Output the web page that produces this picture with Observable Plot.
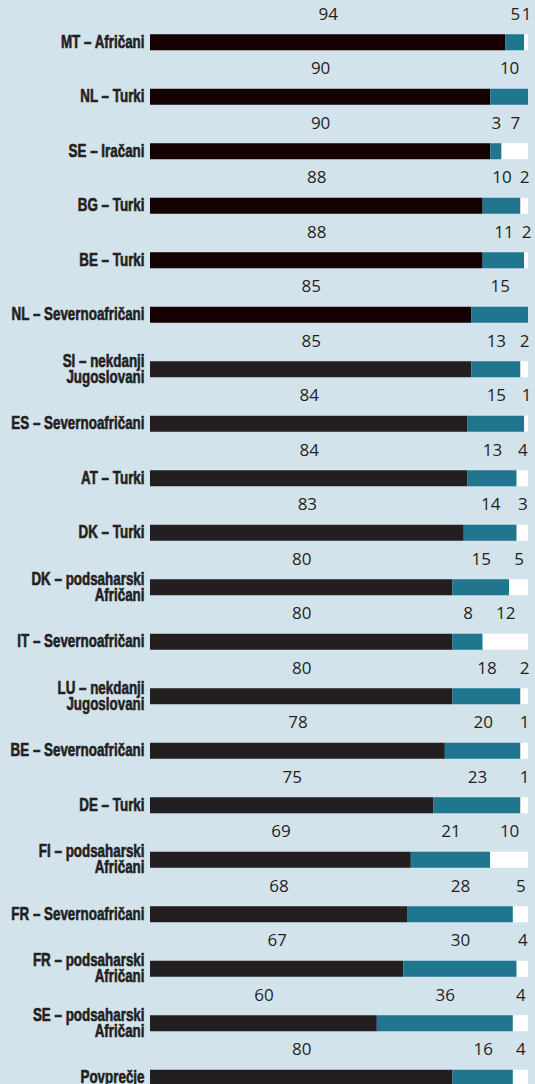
<!DOCTYPE html>
<html>
<head>
<meta charset="utf-8">
<script src="https://cdn.jsdelivr.net/npm/d3@7"></script>
<script src="https://cdn.jsdelivr.net/npm/@observablehq/plot@0.6"></script>
<style>
  html, body { margin: 0; padding: 0; background: #d3e3ec; }
  #chart { width: 535px; }
</style>
</head>
<body>
<div id="chart"></div>
<script>
const categories = [
  "MT – Afričani",
  "NL – Turki",
  "SE – Iračani",
  "BG – Turki",
  "BE – Turki",
  "NL – Severnoafričani",
  "SI – nekdanji\nJugoslovani",
  "ES – Severnoafričani",
  "AT – Turki",
  "DK – Turki",
  "DK – podsaharski\nAfričani",
  "IT – Severnoafričani",
  "LU – nekdanji\nJugoslovani",
  "BE – Severnoafričani",
  "DE – Turki",
  "FI – podsaharski\nAfričani",
  "FR – Severnoafričani",
  "FR – podsaharski\nAfričani",
  "SE – podsaharski\nAfričani",
  "Povprečje"
];
const firstValues  = [94, 90, 90, 88, 88, 85, 85, 84, 84, 83, 80, 80, 80, 78, 75, 69, 68, 67, 60, 80];
const secondValues = [5, 10, 3, 10, 11, 15, 13, 15, 13, 14, 15, 8, 18, 20, 23, 21, 28, 30, 36, 16];
const thirdValues  = [1, null, 7, 2, 2, null, 2, 1, 4, 3, 5, 12, 2, 1, 1, 10, 5, 4, 4, 4];

const segs = [];
categories.forEach((cat, i) => {
  const a = firstValues[i], b = secondValues[i], c = thirdValues[i];
  segs.push({cat, seg: i < 6 ? "first-top" : "first", x1: 0, x2: a, label: a});
  segs.push({cat, seg: "second", x1: a, x2: a + b, label: b});
  segs.push({cat, seg: "third", x1: a + b, x2: 100, label: c});
});
const labels = segs.filter(d => d.label != null);

const chart = Plot.plot({
  width: 535,
  height: 1110,
  marginLeft: 150,
  marginRight: 7,
  marginTop: 15,
  marginBottom: 5,
  style: {background: "transparent", color: "#231f20"},
  x: {domain: [0, 100], axis: null},
  y: {domain: categories, axis: null, padding: 0, round: false},
  color: {
    domain: ["first-top", "first", "second", "third"],
    range: ["#140000", "#231f20", "#21768f", "#ffffff"]
  },
  marks: [
    Plot.barX(segs, {
      y: "cat", x1: "x1", x2: "x2", fill: "seg",
      insetTop: 19.25, insetBottom: 19.25
    }),
    Plot.text(labels, {
      y: "cat", x: d => (d.x1 + d.x2) / 2, text: d => String(d.label),
      textAnchor: "middle", lineAnchor: "bottom", dy: -23,
      fontSize: 17, fontFamily: "'Open Sans', sans-serif", fill: "#231f20"
    }),
    Plot.text(categories, {
      y: d => d, x: 0, text: d => d,
      textAnchor: "end", lineAnchor: "middle", dx: -6,
      lineHeight: 0.9,
      fontSize: 17.5, fontWeight: "bold",
      fontFamily: "'Liberation Sans', Arial, sans-serif",
      fill: "#231f20", stroke: "#231f20", strokeWidth: 0.6
    })
  ]
});
document.getElementById("chart").appendChild(chart);
// condense the category labels horizontally (reference uses a condensed face)
const labelSet = new Set(categories.map(c => c.replace("\n", "")));
d3.select(chart).selectAll("text").each(function() {
  if (!labelSet.has(this.textContent)) return;
  const t = this.getAttribute("transform") || "";
  this.setAttribute("transform", t + " scale(0.765,1)");
});
</script>
</body>
</html>
